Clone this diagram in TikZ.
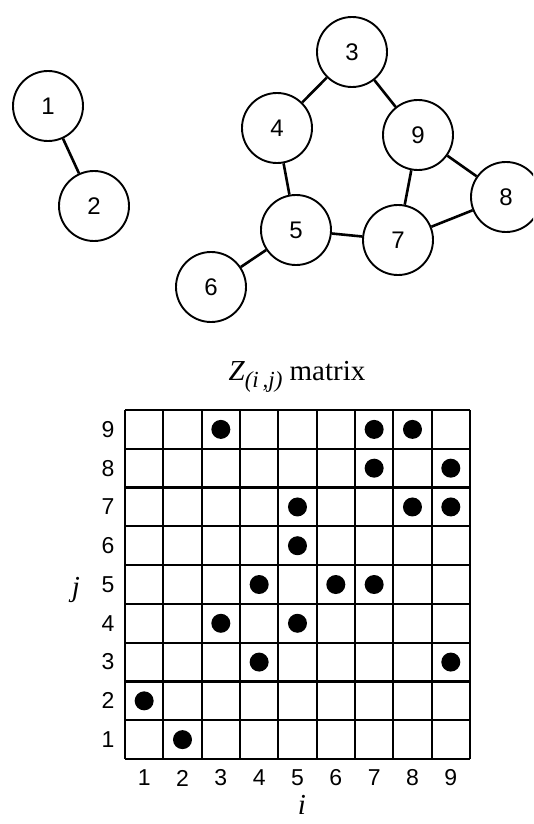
\documentclass[tikz,border=0pt]{standalone}
\usepackage{fontspec}
\setmainfont{Liberation Serif}
\newfontfamily\digfont{Liberation Sans}
\begin{document}
\begin{tikzpicture}[x=1pt,y=-1pt,
  vert/.style={circle,draw,line width=1.9pt,minimum size=70pt,inner sep=0pt,font=\digfont\fontsize{24}{28}\selectfont},
  edge/.style={line width=2.6pt},
  gridline/.style={line width=2.2pt},
  dot/.style={fill=black},
  lab/.style={font=\digfont\fontsize{23}{27}\selectfont},
  ttl/.style={font=\fontsize{29}{34}\selectfont}]
\useasboundingbox (0,0) rectangle (533,824);
\begin{scope}
\clip (0,0) rectangle (533,824);
% graph nodes
\node[vert] (n1) at (48,106) {1};
\node[vert] (n2) at (94,206) {2};
\node[vert] (n3) at (352,52) {3};
\node[vert] (n4) at (277,128) {4};
\node[vert] (n9) at (418,135) {9};
\node[vert] (n8) at (506,197) {8};
\node[vert] (n5) at (296,230) {5};
\node[vert] (n7) at (398,240) {7};
\node[vert] (n6) at (211,287) {6};
\draw[edge] (n1) -- (n2);
\draw[edge] (n3) -- (n4);
\draw[edge] (n3) -- (n9);
\draw[edge] (n4) -- (n5);
\draw[edge] (n5) -- (n6);
\draw[edge] (n5) -- (n7);
\draw[edge] (n9) -- (n7);
\draw[edge] (n9) -- (n8);
\draw[edge] (n8) -- (n7);
\end{scope}
% title
\node[ttl] (title) at (297,377) {\itshape Z\raisebox{-7pt}{\fontsize{23}{26}\selectfont(i\,,j)}\upshape\ matrix};
% grid
\def\gx{125}\def\gy{410}\def\cw{38.33}\def\ch{38.78}
\foreach \k in {0,...,9}{
  \draw[gridline] ({\gx+\k*\cw},\gy) -- ({\gx+\k*\cw},{\gy+9*\ch});
  \draw[gridline] (\gx,{\gy+\k*\ch}) -- ({\gx+9*\cw},{\gy+\k*\ch});
}
% labels
\foreach \k in {1,...,9}{
  \node[lab] (c\k) at ({\gx+(\k-0.5)*\cw},778) {\k};
  \node[lab] (r\k) at (108,{\gy+9*\ch-(\k-0.5)*\ch}) {\k};
}
\node[ttl,inner sep=1pt] (jlab) at (76,590) {\itshape j};
\node[ttl,inner sep=1pt] (ilab) at (302,805) {\itshape i};
% dots
\foreach \i/\j in {3/9,7/9,8/9,7/8,9/8,5/7,8/7,9/7,5/6,4/5,6/5,7/5,3/4,5/4,4/3,9/3,1/2,2/1}{
  \fill[dot] ({\gx+(\i-0.5)*\cw},{\gy+9*\ch-(\j-0.5)*\ch}) circle (9.5);
}
\end{tikzpicture}
\end{document}
